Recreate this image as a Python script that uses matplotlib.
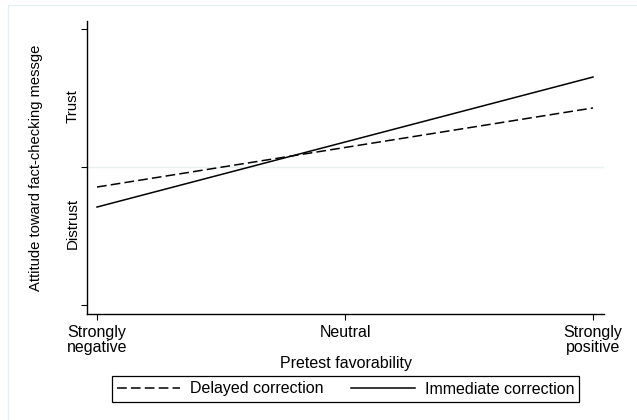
import matplotlib
matplotlib.use("Agg")
import matplotlib.pyplot as plt
from matplotlib.patches import Rectangle

plt.rcParams["font.family"] = ["Liberation Sans", "DejaVu Sans"]
plt.rcParams["lines.scale_dashes"] = False

# Predicted attitude at the two ends of the pretest scale (1 = strongly negative, 7 = strongly positive)
favorability = [1, 7]
delayed = [-0.145, 0.428]
immediate = [-0.29, 0.652]

x_ticks = [1, 4, 7]
x_tick_labels = ["Strongly\nnegative", "Neutral", "Strongly\npositive"]
y_ticks = [-1, 0, 1]
y_label_pos = [-0.41, 0.44]
y_labels = ["Distrust", "Trust"]

W, H = 637, 420
fig = plt.figure(figsize=(W / 100, H / 100), dpi=100)
fig.patches.append(Rectangle((8 / W, -0.1), 1, 1.1 - 5 / H, transform=fig.transFigure,
                             fill=False, edgecolor="#e6eff1", linewidth=1.0))

ax = fig.add_axes([87 / W, 106 / H, 517 / W, 293 / H])
ax.set_xlim(0.879, 7.133)
ax.set_ylim(-1.065, 1.058)

ax.axhline(0, color="#e8f0f2", linewidth=1.0, zorder=0)

ax.plot(favorability, delayed, color="black", linewidth=1.1, dashes=(7, 3),
        label="Delayed correction")
ax.plot(favorability, immediate, color="black", linewidth=1.1,
        label="Immediate correction")

for side in ("top", "right"):
    ax.spines[side].set_visible(False)
for side in ("left", "bottom"):
    ax.spines[side].set_linewidth(1.0)

ax.set_xticks(x_ticks)
ax.set_xticklabels(x_tick_labels, fontsize=11.5, linespacing=0.95)
ax.tick_params(axis="x", length=4.5, width=0.8, pad=3.5)

ax.set_yticks(y_ticks)
ax.set_yticklabels([])
ax.set_yticks(y_label_pos, minor=True)
ax.set_yticklabels(y_labels, minor=True, rotation=90, va="center", fontsize=10.8)
ax.tick_params(axis="y", which="major", length=4.5, width=0.8)
ax.tick_params(axis="y", which="minor", length=0, pad=5.5)

ax.set_xlabel("Pretest favorability", fontsize=11.5, labelpad=1)
ax.set_ylabel("Attitude toward fact-checking messge", fontsize=10.6, labelpad=16)

leg = ax.legend(loc="center", bbox_to_anchor=(345.5 / W, 1 - 389 / H),
                bbox_transform=fig.transFigure, ncol=2, fontsize=11.5,
                handlelength=3.95, handletextpad=0.63, columnspacing=1.75,
                borderpad=0.32, fancybox=False, framealpha=1)
leg.get_frame().set_edgecolor("black")
leg.get_frame().set_linewidth(0.9)

fig.savefig("out.png", dpi=100)
